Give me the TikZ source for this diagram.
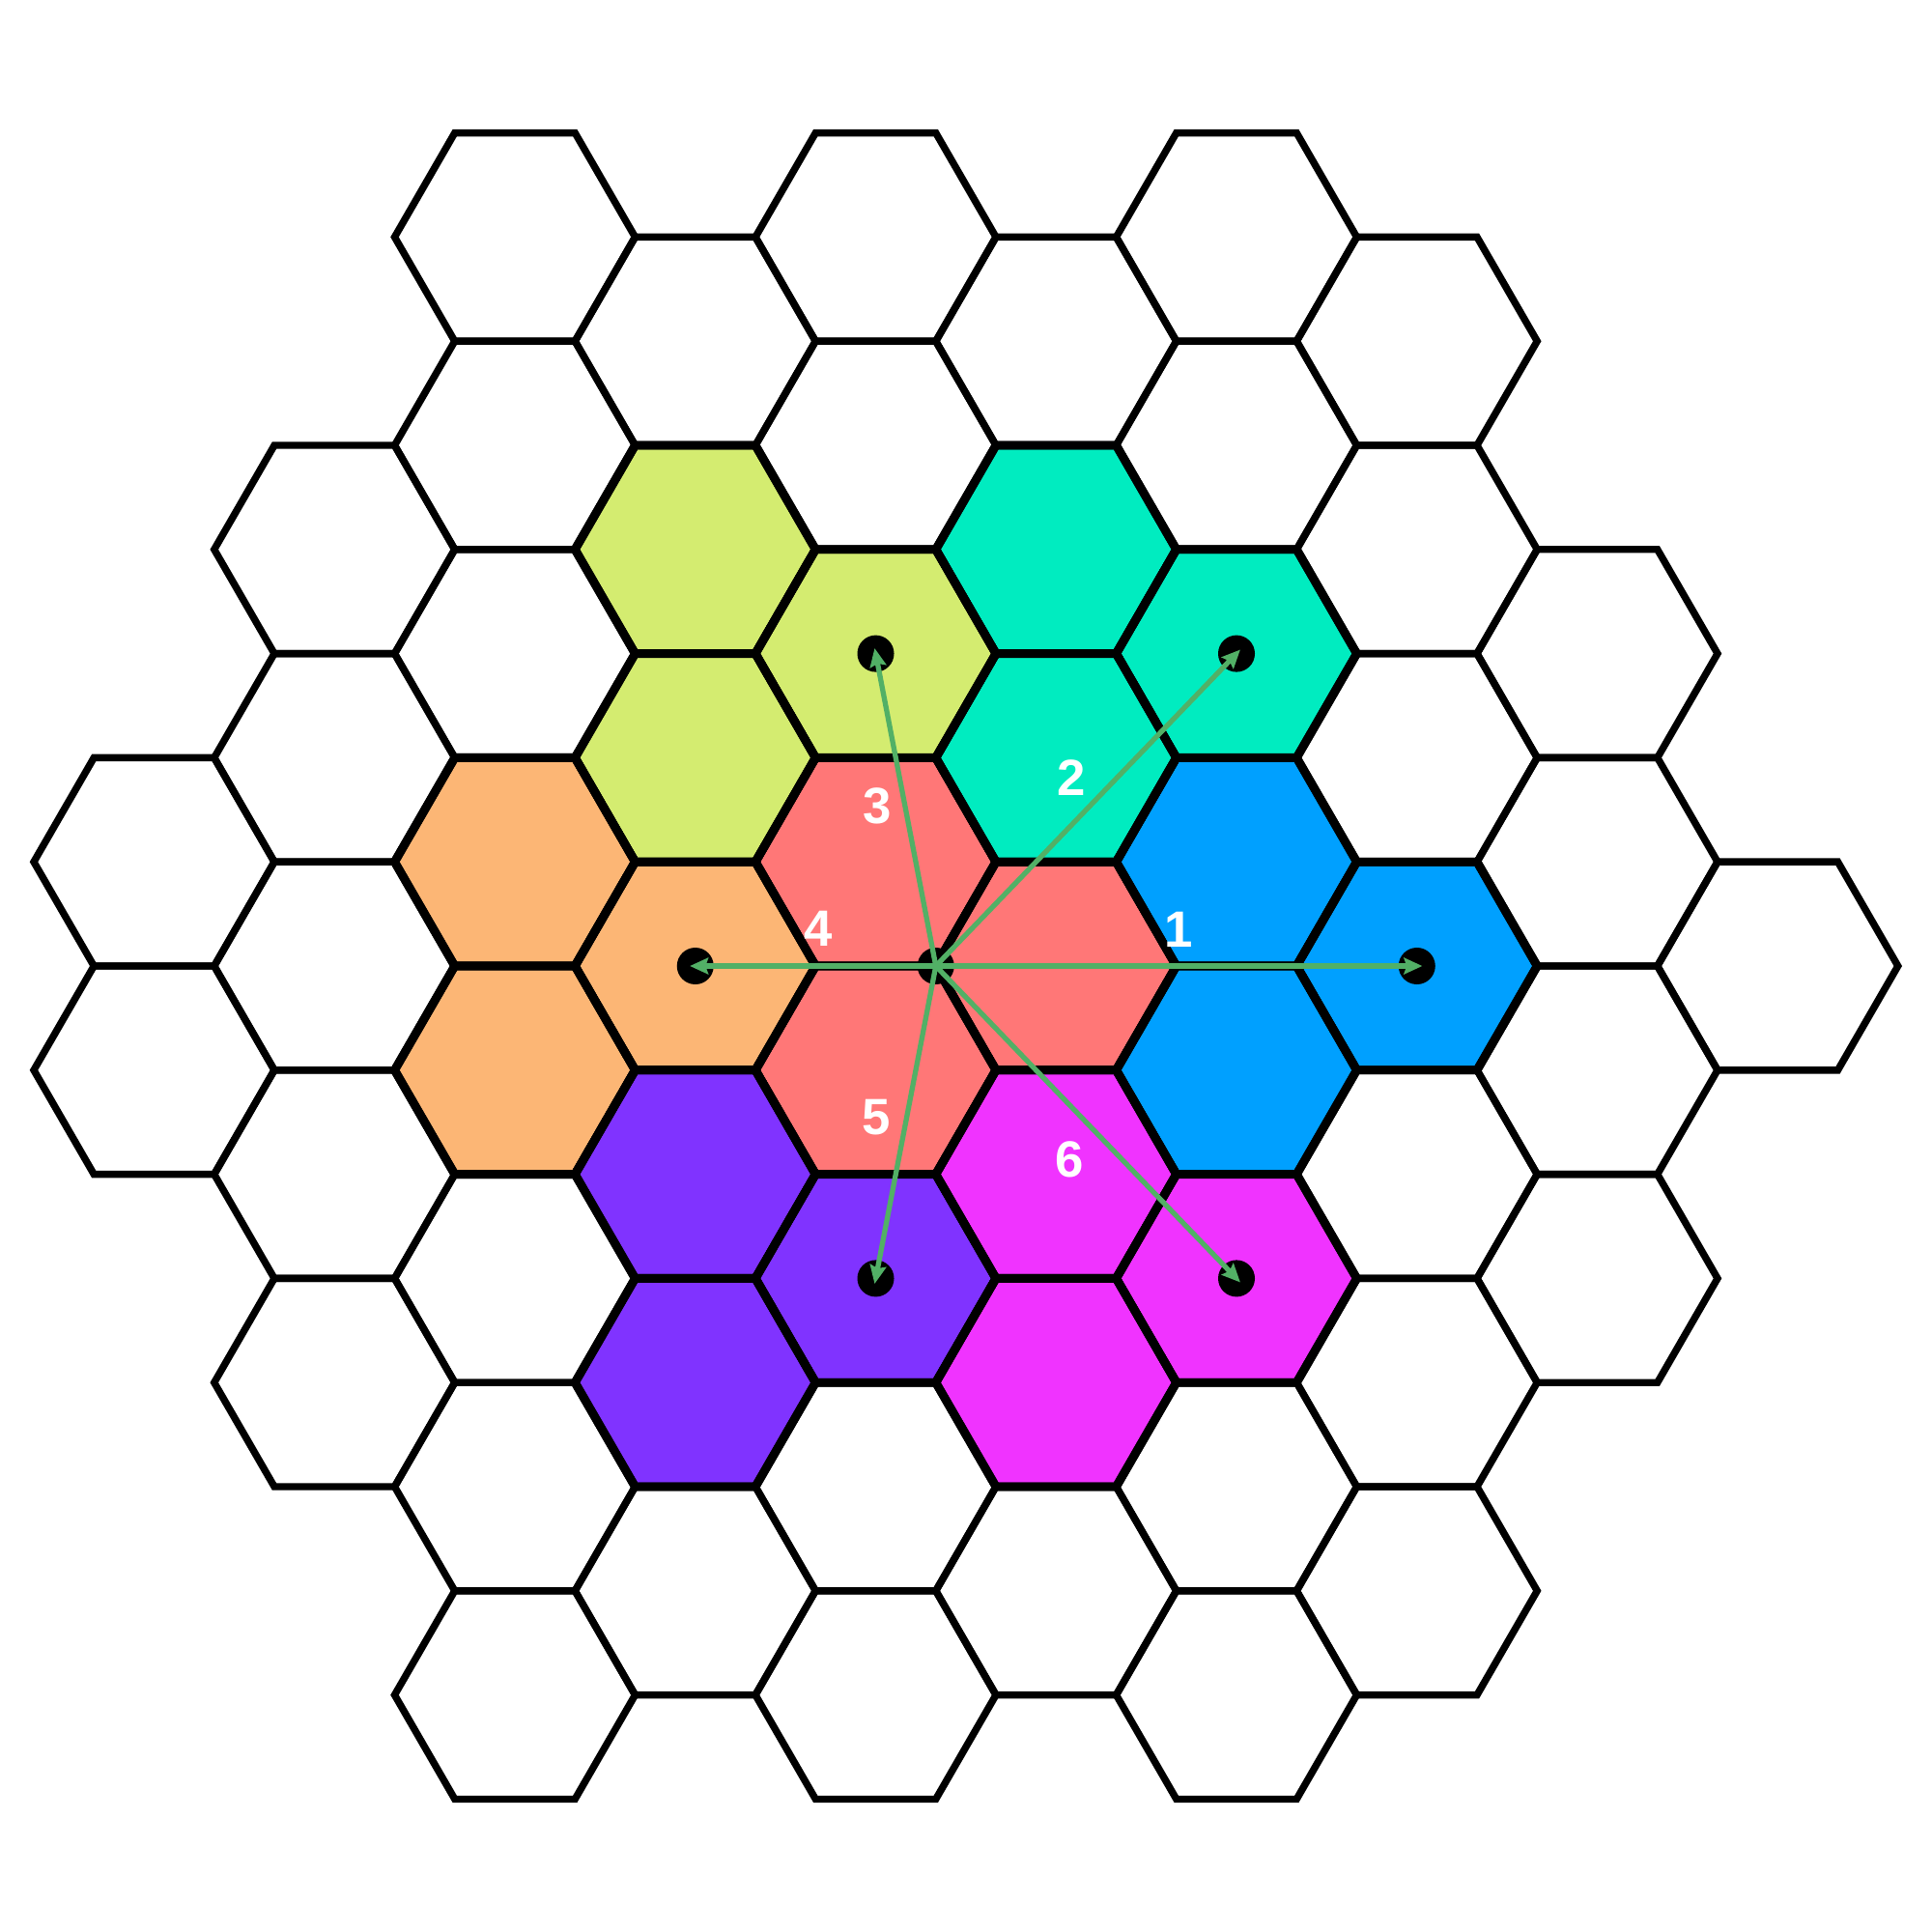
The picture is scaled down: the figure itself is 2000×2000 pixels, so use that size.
\documentclass[tikz,border=0pt]{standalone}
\usepackage{fontspec}
\setmainfont{Liberation Sans}
\usetikzlibrary{arrows.meta}
\definecolor{cred}{RGB}{255,119,119}
\definecolor{cblue}{RGB}{0,160,255}
\definecolor{ccyan}{RGB}{0,236,192}
\definecolor{cyel}{RGB}{212,236,112}
\definecolor{corange}{RGB}{252,182,117}
\definecolor{cpurple}{RGB}{128,51,255}
\definecolor{cmag}{RGB}{240,51,255}
\definecolor{cgreen}{RGB}{82,176,102}
\tikzset{
  hexline/.style={draw=black, line width=2.1pt, line join=miter},
  hexcol/.style={draw=black, fill=#1, line width=2.5pt, line join=miter},
  dotnode/.style={circle, fill=black, inner sep=0pt, minimum size=0.38cm},
  arr/.style={draw=cgreen, line width=1.5pt, shorten >=-1.6pt,
    -{Stealth[length=5.4pt, width=4.8pt, inset=0.8pt]}},
  lbl/.style={text=white, font=\fontsize{15}{17}\selectfont\bfseries, inner sep=0pt}
}
\def\hexX#1{906.5+186.75*(#1)}
\def\hexY#1{1000+107.8*(#1)}
\begin{document}
\begin{tikzpicture}[x=0.01cm,y=-0.01cm]
\fill[white] (0,0) rectangle (2000,2000);
\useasboundingbox (0,0) rectangle (2000,2000);
% white grid
\foreach \k/\js in {-4/{-1,1}, -3/{-4,-2,...,4}, -2/{-7,-5,...,7}, -1/{-6,-4,...,6},
                    0/{-7,-5,...,7}, 1/{-6,-4,...,6}, 2/{-7,-5,...,7}, 3/{-6,-4,...,6},
                    4/{-3,-1,...,3}, 5/{0}} {
  \foreach \j in \js {
    \path[hexline] ({\hexX{\k}},{\hexY{\j}}) +(0:124.5) -- +(60:124.5) -- +(120:124.5)
      -- +(180:124.5) -- +(240:124.5) -- +(300:124.5) -- cycle;
  }
}
% coloured groups
\foreach \k/\j/\c in {0/-1/cred, 1/0/cred, 0/1/cred,
                      2/-1/cblue, 3/0/cblue, 2/1/cblue,
                      1/-4/ccyan, 2/-3/ccyan, 1/-2/ccyan,
                      -1/-4/cyel, 0/-3/cyel, -1/-2/cyel,
                      -2/-1/corange, -1/0/corange, -2/1/corange,
                      -1/2/cpurple, 0/3/cpurple, -1/4/cpurple,
                      1/2/cmag, 2/3/cmag, 1/4/cmag} {
  \path[hexcol=\c] ({\hexX{\k}},{\hexY{\j}}) +(0:124.5) -- +(60:124.5) -- +(120:124.5)
    -- +(180:124.5) -- +(240:124.5) -- +(300:124.5) -- cycle;
}
% redraw shared edges of coloured hexes
\foreach \k/\j in {0/-1, 1/0, 0/1, 2/-1, 3/0, 2/1, 1/-4, 2/-3, 1/-2, -1/-4, 0/-3, -1/-2,
                   -2/-1, -1/0, -2/1, -1/2, 0/3, -1/4, 1/2, 2/3, 1/4} {
  \draw[black, line width=2.5pt] ({\hexX{\k}},{\hexY{\j}}) +(0:124.5) -- +(60:124.5) -- +(120:124.5)
    -- +(180:124.5) -- +(240:124.5) -- +(300:124.5) -- cycle;
}
% dots
\node[dotnode] (c0) at ({\hexX{0}+62.25},{\hexY{0}}) {};
\node[dotnode] (d1) at ({\hexX{3}},{\hexY{0}}) {};
\node[dotnode] (d2) at ({\hexX{2}},{\hexY{-3}}) {};
\node[dotnode] (d3) at ({\hexX{0}},{\hexY{-3}}) {};
\node[dotnode] (d4) at ({\hexX{-1}},{\hexY{0}}) {};
\node[dotnode] (d5) at ({\hexX{0}},{\hexY{3}}) {};
\node[dotnode] (d6) at ({\hexX{2}},{\hexY{3}}) {};
% arrows
\foreach \d in {d1,d2,d3,d4,d5,d6} {
  \draw[arr] (c0.center) -- (\d.center);
}
% labels
\node[lbl] (l1) at (1220,962) {1};
\node[lbl] (l2) at (1109,805) {2};
\node[lbl] (l3) at (908,834) {3};
\node[lbl] (l4) at (847,961) {4};
\node[lbl] (l5) at (907,1157) {5};
\node[lbl] (l6) at (1107,1200) {6};
\end{tikzpicture}
\end{document}
